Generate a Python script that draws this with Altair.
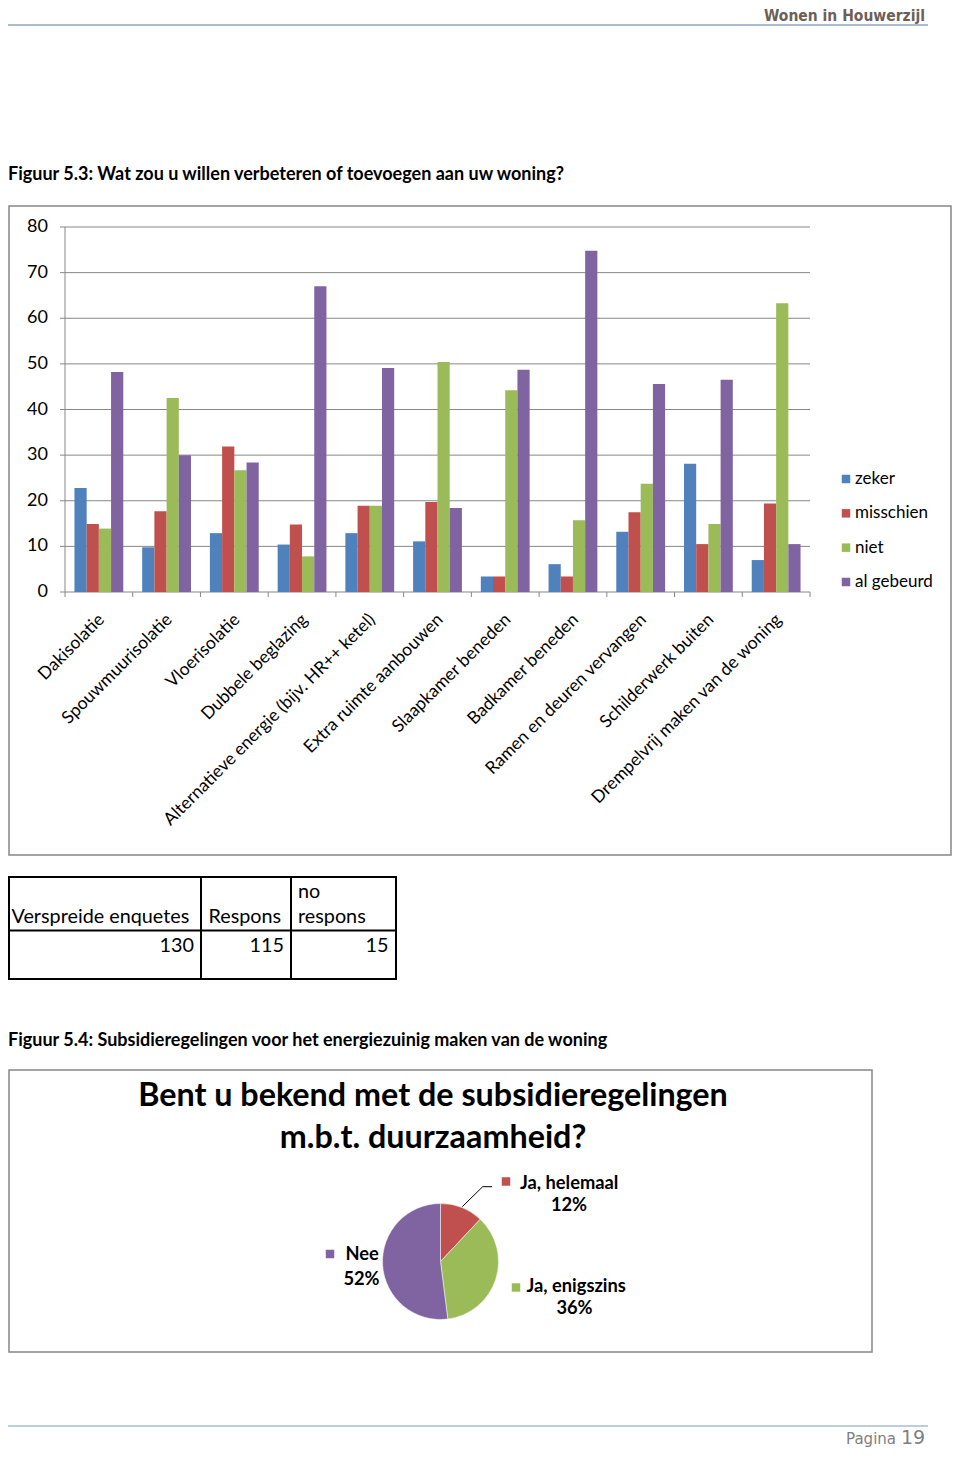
import altair as alt
import pandas as pd

# ---------------- data ----------------
categories = [
    "Dakisolatie", "Spouwmuurisolatie", "Vloerisolatie", "Dubbele beglazing",
    "Alternatieve energie (bijv. HR++ ketel)", "Extra ruimte aanbouwen",
    "Slaapkamer beneden", "Badkamer beneden", "Ramen en deuren vervangen",
    "Schilderwerk buiten", "Drempelvrij maken van de woning",
]
series = ["zeker", "misschien", "niet", "al gebeurd"]
zeker = [22.8, 9.8, 12.9, 10.4, 12.9, 11.1, 3.4, 6.1, 13.2, 28.1, 7.0]
misschien = [14.9, 17.7, 31.9, 14.8, 18.9, 19.7, 3.4, 3.4, 17.5, 10.5, 19.4]
niet = [13.9, 42.5, 26.7, 7.8, 18.9, 50.4, 44.2, 15.7, 23.7, 14.9, 63.3]
al_gebeurd = [48.2, 30.0, 28.4, 67.0, 49.1, 18.4, 48.7, 74.8, 45.6, 46.5, 10.5]
y_ticks = [0, 10, 20, 30, 40, 50, 60, 70, 80]
palette = ["#4F81BD", "#C0504D", "#9BBB59", "#8064A2"]

table_headers = ["Verspreide enquetes", "Respons", "no\nrespons"]
table_values = [130, 115, 15]

pie_labels = ["Ja, helemaal", "Ja, enigszins", "Nee"]
pie_values = [12, 36, 52]
pie_colors = ["#C0504D", "#9BBB59", "#8064A2"]

title_53 = "Figuur 5.3: Wat zou u willen verbeteren of toevoegen aan uw woning?"
title_54 = "Figuur 5.4: Subsidieregelingen voor het energiezuinig maken van de woning"
pie_title = ["Bent u bekend met de subsidieregelingen", "m.b.t. duurzaamheid?"]
header = "Wonen in Houwerzijl"

# ---------------- helpers ----------------
OX, OY = 8, 8
FONT = "Lato"
GRAY = "#878787"


def X(v):
    return alt.value(v - OX)


def Y(v):
    return alt.value(v - OY)


one = pd.DataFrame({"k": [0]})


def text(s, x, y, **kw):
    return alt.Chart(one).mark_text(**kw).encode(x=X(x), y=Y(y), text=alt.value(s))


def rule(x1, y1, x2, y2, **kw):
    return alt.Chart(one).mark_rule(**kw).encode(x=X(x1), y=Y(y1), x2=X(x2), y2=Y(y2))


def box(x1, y1, x2, y2, **kw):
    return alt.Chart(one).mark_rect(fillOpacity=0, **kw).encode(
        x=X(x1), y=Y(y1), x2=X(x2), y2=Y(y2))


layers = []

# ---------------- page header ----------------
layers.append(text(header, 925, 20.5, align="right", baseline="alphabetic",
                   font="DejaVu Sans Condensed, Liberation Sans Narrow, Liberation Sans",
                   fontWeight="bold", fontSize=15.5, color="#6d5f57"))
layers.append(rule(8, 25, 928, 25, color="#a9bdd2", strokeWidth=2))

# ---------------- figure 5.3 ----------------
layers.append(text(title_53, 8, 180, align="left", baseline="alphabetic",
                   font=FONT, fontWeight="bold", fontSize=18, color="#000000"))
layers.append(box(9, 206, 951, 855, stroke=GRAY, strokeWidth=1.5))

rows = []
for s, vals in zip(series, [zeker, misschien, niet, al_gebeurd]):
    for c, v in zip(categories, vals):
        rows.append({"cat": c, "series": s, "value": v})
bar_df = pd.DataFrame(rows)
cat_df = pd.DataFrame({"cat": categories})
tick_df = pd.DataFrame({"tick": y_ticks})

xscale = alt.Scale(domain=categories, range=[65 - OX, 810 - OX], paddingInner=0, paddingOuter=0)
yscale = alt.Scale(domain=[0, 80], range=[592 - OY, 227 - OY], nice=False)

layers.append(alt.Chart(tick_df).mark_rule(color=GRAY, strokeWidth=1).encode(
    y=alt.Y("tick:Q", scale=yscale, axis=None), x=X(60), x2=X(810)))
layers.append(alt.Chart(tick_df).mark_text(align="right", baseline="middle", font=FONT,
                                           fontSize=18, color="#000000").encode(
    y=alt.Y("tick:Q", scale=yscale, axis=None), x=X(48), text="tick:Q"))
layers.append(rule(65, 227, 65, 597, color=GRAY, strokeWidth=1))
layers.append(alt.Chart(cat_df).mark_rule(color=GRAY, strokeWidth=1).encode(
    x=alt.X("cat:N", scale=xscale, bandPosition=1, axis=None), y=Y(592), y2=Y(597)))

layers.append(alt.Chart(bar_df).mark_bar().encode(
    x=alt.X("cat:N", scale=xscale, axis=None),
    xOffset=alt.XOffset("series:N", scale=alt.Scale(domain=series, paddingInner=0, paddingOuter=0.775)),
    y=alt.Y("value:Q", scale=yscale, axis=None),
    color=alt.Color("series:N", scale=alt.Scale(domain=series, range=palette), legend=None),
))

layers.append(alt.Chart(cat_df).mark_text(angle=315, align="right", baseline="middle",
                                          font=FONT, fontSize=17.5, color="#000000", dx=4).encode(
    x=alt.X("cat:N", scale=xscale, axis=None), y=Y(620), text="cat:N"))

leg_df = pd.DataFrame({"series": series})
leg_y = alt.Scale(type="point", domain=series, range=[479 - OY, 582 - OY], padding=0)
layers.append(alt.Chart(leg_df).mark_square(size=72, opacity=1).encode(
    y=alt.Y("series:N", scale=leg_y, axis=None), x=X(846),
    color=alt.Color("series:N", scale=alt.Scale(domain=series, range=palette), legend=None)))
layers.append(alt.Chart(leg_df).mark_text(align="left", baseline="middle", font=FONT,
                                          fontSize=17, color="#000000").encode(
    y=alt.Y("series:N", scale=leg_y, axis=None), x=X(855), text="series:N"))

# ---------------- table ----------------
layers.append(box(9, 877, 396, 979, stroke="#000000", strokeWidth=2))
layers.append(rule(201, 877, 201, 979, color="#000000", strokeWidth=2))
layers.append(rule(291, 877, 291, 979, color="#000000", strokeWidth=2))
layers.append(rule(8, 930.5, 396, 930.5, color="#000000", strokeWidth=2))
head_x = [11.5, 208.5, 298]
val_right = [194, 284, 388.5]
for i, h in enumerate(table_headers):
    lines = h.split("\n")
    for j, ln in enumerate(lines):
        layers.append(text(ln, head_x[i], 923 - (len(lines) - 1 - j) * 25, align="left",
                           baseline="alphabetic", font=FONT, fontSize=19.8, color="#000000"))
    layers.append(text(str(table_values[i]), val_right[i], 951.5, align="right",
                       baseline="alphabetic", font=FONT, fontSize=19.8, color="#000000"))

# ---------------- figure 5.4 ----------------
layers.append(text(title_54, 8, 1046, align="left", baseline="alphabetic",
                   font=FONT, fontWeight="bold", fontSize=18, color="#000000"))
layers.append(box(9, 1070, 872, 1352, stroke=GRAY, strokeWidth=1.5))
layers.append(text(pie_title[0], 433, 1106, align="center", baseline="alphabetic",
                   font=FONT, fontWeight="bold", fontSize=32.3, color="#000000"))
layers.append(text(pie_title[1], 433, 1148, align="center", baseline="alphabetic",
                   font=FONT, fontWeight="bold", fontSize=32.3, color="#000000"))

pie_df = pd.DataFrame({"answer": pie_labels, "pct": pie_values, "i": list(range(len(pie_labels)))})
layers.append(alt.Chart(pie_df).mark_arc(outerRadius=58, stroke="#ffffff", strokeWidth=0.5).encode(
    theta=alt.Theta("pct:Q", stack=True),
    order=alt.Order("i:Q"),
    color=alt.Color("answer:N", scale=alt.Scale(domain=pie_labels, range=pie_colors), legend=None),
    x=X(440.5), y=Y(1261.5)))

# pie labels: (square x, square y, name x, name baseline, pct center x, pct baseline)
pie_label_pos = [
    (506, 1181.5, 520, 1188.5, 569, 1210.5),
    (516, 1287.5, 526.5, 1292, 574.5, 1313.5),
    (330, 1254, 345.5, 1260, 361.5, 1285),
]
for (sx, sy, nx, ny, px, py), lab, val, col in zip(pie_label_pos, pie_labels, pie_values, pie_colors):
    layers.append(alt.Chart(one).mark_square(size=72, opacity=1, color=col).encode(x=X(sx), y=Y(sy)))
    layers.append(text(lab, nx, ny, align="left", baseline="alphabetic", font=FONT,
                       fontWeight="bold", fontSize=18.3, color="#000000"))
    layers.append(text(f"{val}%", px, py, align="center", baseline="alphabetic", font=FONT,
                       fontWeight="bold", fontSize=18.3, color="#000000"))
layers.append(rule(462.3, 1206.7, 482.7, 1186.7, color="#000000", strokeWidth=1))
layers.append(rule(482.7, 1186.7, 492, 1186.7, color="#000000", strokeWidth=1))

# ---------------- footer ----------------
layers.append(rule(8, 1426, 928, 1426, color="#a9bdd2", strokeWidth=1.5))
layers.append(text("Pagina", 896, 1443.5, align="right", baseline="alphabetic",
                   font="DejaVu Sans", fontSize=15, color="#7f7f7f"))
layers.append(text("19", 901, 1444, align="left", baseline="alphabetic",
                   font="DejaVu Sans", fontSize=19, color="#7f7f7f"))

chart = alt.layer(*layers).resolve_scale(
    x="independent", y="independent", color="independent"
).properties(
    width=944, height=1441, padding=0,
    autosize=alt.AutoSizeParams(type="none"),
).configure_view(stroke="transparent")

chart.save("out.html", embed_options={"renderer": "svg", "actions": False})
